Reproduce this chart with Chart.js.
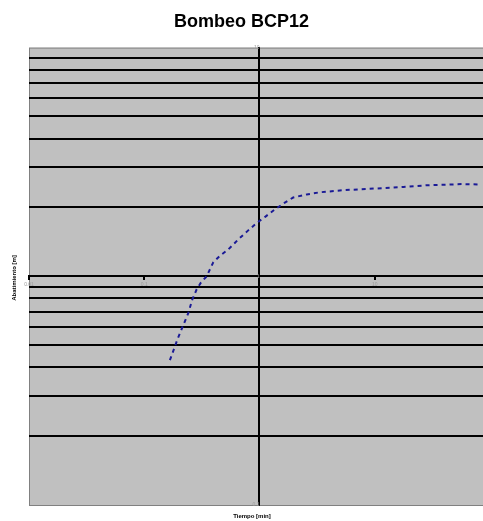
<!DOCTYPE html>
<html>
<head>
<meta charset="utf-8">
<title>Bombeo BCP12</title>
<script src="https://cdn.jsdelivr.net/npm/chart.js@4.4.1/dist/chart.umd.min.js"></script>
<style>
  html, body { margin: 0; padding: 0; background: #ffffff; }
  #wrap { width: 483px; height: 521px; }
</style>
</head>
<body>
<div id="wrap"><canvas id="c" width="483" height="521"></canvas></div>
<script>
// Pumping test, well BCP12: drawdown against elapsed time (log-log)
const timeMin = [0.167, 0.181, 0.194, 0.211, 0.241, 0.261, 0.285, 0.311, 0.348, 0.397,
                 0.454, 0.536, 0.655, 0.79, 0.946, 1.12, 1.36, 1.66, 1.96, 2.57,
                 3.35, 5.33, 8.79, 17.7, 28.2, 56.8, 81.9];
const drawdown = [0.43, 0.48, 0.53, 0.587, 0.69, 0.79, 0.877, 0.94, 1.0, 1.15,
                  1.23, 1.31, 1.45, 1.58, 1.71, 1.82, 1.96, 2.1, 2.21, 2.28,
                  2.33, 2.38, 2.41, 2.46, 2.5, 2.53, 2.52];
const xLimits = [0.01, 87];
const yLimits = [0.1, 10];
const xTicks = [0.01, 0.1, 1, 10];
const yTicks = [0.1, 0.2, 0.3, 0.4, 0.5, 0.6, 0.7, 0.8, 0.9,
                1, 2, 3, 4, 5, 6, 7, 8, 9, 10];
const chartTitle = 'Bombeo BCP12';
const xTitle = 'Tiempo [min]';
const yTitle = 'Abatimiento [m]';

const isDecade = v => Math.abs(Math.log10(v) - Math.round(Math.log10(v))) < 1e-6;
const decadeLabel = v => {
  const e = Math.round(Math.log10(v));
  return e < 0 ? Math.pow(10, e).toFixed(-e) : String(Math.pow(10, e));
};
const tickLabel = v => (isDecade(v) ? decadeLabel(v) : '');

const points = timeMin.map((t, i) => ({ x: t, y: drawdown[i] }));

// grey plot area with a thin frame, plus the two axis titles
const plotFrame = {
  id: 'plotFrame',
  beforeDraw(chart) {
    const { ctx, chartArea: a } = chart;
    ctx.save();
    ctx.fillStyle = '#c0c0c0';
    ctx.fillRect(a.left, a.top, a.right - a.left, a.bottom - a.top);
    ctx.strokeStyle = '#808080';
    ctx.lineWidth = 1;
    ctx.strokeRect(a.left + 0.5, a.top + 0.5, a.right - a.left, a.bottom - a.top);
    ctx.restore();
  },
  afterDraw(chart) {
    const { ctx } = chart;
    ctx.save();
    ctx.fillStyle = '#000000';
    ctx.font = 'bold 6px "Liberation Sans", Arial, sans-serif';
    ctx.textAlign = 'center';
    ctx.textBaseline = 'middle';
    ctx.fillText(xTitle, 252, 516);
    ctx.translate(14, 278);
    ctx.rotate(-Math.PI / 2);
    ctx.fillText(yTitle, 0, 0);
    ctx.restore();
  }
};

new Chart(document.getElementById('c'), {
  type: 'scatter',
  data: {
    datasets: [{
      data: points,
      xAxisID: 'x',
      yAxisID: 'y',
      showLine: true,
      borderColor: '#1a1a96',
      borderWidth: 2,
      borderDash: [4, 4],
      pointRadius: 0,
      tension: 0
    }]
  },
  options: {
    responsive: false,
    animation: false,
    layout: { padding: { left: 0, right: 0, top: 0, bottom: 16 } },
    plugins: {
      legend: { display: false },
      tooltip: { enabled: false },
      title: {
        display: true,
        text: chartTitle,
        color: '#000000',
        font: { family: '"Liberation Sans", Arial, sans-serif', size: 18, weight: 'bold' },
        padding: { top: 11, bottom: 15 }
      }
    },
    scales: {
      x: {
        type: 'logarithmic',
        position: { y: 1 },
        min: xLimits[0],
        max: xLimits[1],
        afterBuildTicks: scale => { scale.ticks = xTicks.map(v => ({ value: v })); },
        grid: {
          drawOnChartArea: false,
          drawTicks: true,
          tickLength: 3,
          lineWidth: 2,
          color: '#000000'
        },
        border: { display: true, color: '#000000', width: 2 },
        ticks: {
          autoSkip: false,
          maxRotation: 0,
          padding: 2,
          color: '#9a9a9a',
          font: { family: '"Liberation Sans", Arial, sans-serif', size: 5 },
          callback: v => tickLabel(v)
        }
      },
      y: {
        type: 'logarithmic',
        position: { x: 1 },
        min: yLimits[0],
        max: yLimits[1],
        afterBuildTicks: scale => { scale.ticks = yTicks.map(v => ({ value: v })); },
        grid: {
          drawTicks: false,
          lineWidth: 2,
          color: ctx => {
            if (!ctx.tick) return '#000000';
            const v = ctx.tick.value;
            return (Math.abs(v - yLimits[0]) < 1e-9 || Math.abs(v - yLimits[1]) < 1e-9)
              ? 'rgba(0,0,0,0)' : '#000000';
          }
        },
        border: { display: true, color: '#000000', width: 2 },
        ticks: {
          autoSkip: false,
          padding: 3,
          color: '#9a9a9a',
          font: { family: '"Liberation Sans", Arial, sans-serif', size: 5 },
          callback: v => tickLabel(v)
        }
      },
      // empty strip on the left that holds the rotated axis title
      gutter: {
        type: 'linear',
        axis: 'y',
        position: 'left',
        display: true,
        grid: { display: false },
        border: { display: false },
        ticks: { display: false },
        afterFit: scale => { scale.width = 29; }
      }
    }
  },
  plugins: [plotFrame]
});
</script>
</body>
</html>
